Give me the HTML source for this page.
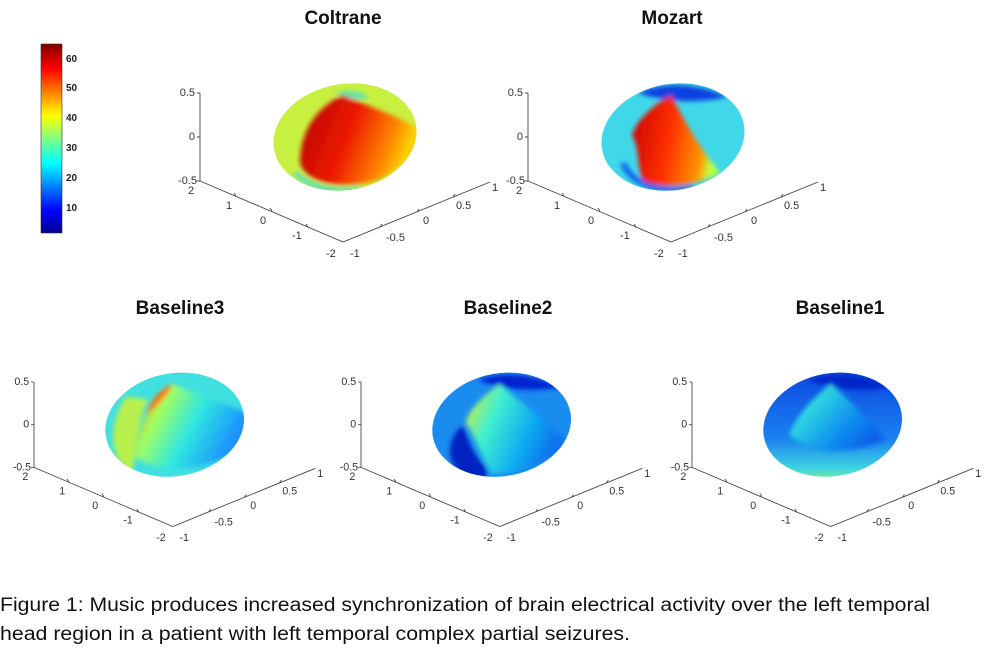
<!DOCTYPE html>
<html><head><meta charset="utf-8"><style>
html,body{margin:0;padding:0;background:#fff;}
svg{display:block;}
.t{font-family:"Liberation Sans",sans-serif;font-size:11px;fill:#333;}
.h{font-family:"Liberation Sans",sans-serif;font-size:19px;font-weight:bold;fill:#111;text-anchor:middle;}
.c{font-family:"Liberation Sans",sans-serif;font-size:19px;fill:#111;}
.cb{font-family:"Liberation Sans",sans-serif;font-size:10px;font-weight:bold;fill:#222;}
</style></head><body>
<svg width="1000" height="648" viewBox="0 0 1000 648" xmlns="http://www.w3.org/2000/svg">
<defs>
<linearGradient id="jet" x1="0" y1="1" x2="0" y2="0">
<stop offset="0" stop-color="#00008f"/><stop offset="0.12" stop-color="#0000ff"/>
<stop offset="0.37" stop-color="#00ffff"/><stop offset="0.5" stop-color="#80ff80"/>
<stop offset="0.62" stop-color="#ffff00"/><stop offset="0.87" stop-color="#ff0000"/>
<stop offset="1" stop-color="#800000"/></linearGradient>
<linearGradient id="red" x1="0" y1="0" x2="1" y2="0.3">
<stop offset="0" stop-color="#b00000"/><stop offset="0.5" stop-color="#ee1a00"/><stop offset="0.85" stop-color="#ff8a00"/><stop offset="1" stop-color="#ffd000"/></linearGradient>
<linearGradient id="red2" x1="0" y1="0" x2="1" y2="0.2">
<stop offset="0" stop-color="#c80000"/><stop offset="0.5" stop-color="#ff3000"/><stop offset="0.9" stop-color="#ff9a00"/><stop offset="1" stop-color="#c0ff40"/></linearGradient>
<linearGradient id="b3" x1="0" y1="0" x2="1" y2="0.4">
<stop offset="0" stop-color="#ff9000"/><stop offset="0.3" stop-color="#a0ff60"/><stop offset="0.6" stop-color="#30e8e0"/><stop offset="1" stop-color="#1a90ff"/></linearGradient>
<linearGradient id="b2" x1="0" y1="0" x2="1" y2="0.4">
<stop offset="0" stop-color="#f0f020"/><stop offset="0.35" stop-color="#40f0d0"/><stop offset="0.7" stop-color="#10b0f0"/><stop offset="1" stop-color="#0a70f0"/></linearGradient>
<linearGradient id="b1" x1="0" y1="0" x2="1" y2="0.6">
<stop offset="0" stop-color="#e8e030"/><stop offset="0.3" stop-color="#30d8e0"/><stop offset="0.7" stop-color="#1090f0"/><stop offset="1" stop-color="#0a60e8"/></linearGradient>
<linearGradient id="b1base" x1="0" y1="0" x2="0" y2="1">
<stop offset="0" stop-color="#0a40e0"/><stop offset="0.6" stop-color="#1a80f0"/><stop offset="0.85" stop-color="#40d8e0"/><stop offset="1" stop-color="#d0f040"/></linearGradient>
<filter id="bl" x="-20%" y="-20%" width="140%" height="140%"><feGaussianBlur stdDeviation="2.5"/></filter>
<clipPath id="ell"><ellipse cx="145" cy="44" rx="72" ry="53" transform="rotate(-10 145 44)"/></clipPath>
</defs>

<rect x="41" y="44" width="21" height="189" fill="url(#jet)" stroke="#333" stroke-width="0.6"/>
<g class="cb"><text x="66" y="62">60</text><text x="66" y="91">50</text><text x="66" y="121">40</text><text x="66" y="151">30</text><text x="66" y="181">20</text><text x="66" y="211">10</text></g>

<text class="h" x="343" y="24">Coltrane</text>
<text class="h" x="672" y="24">Mozart</text>
<text class="h" x="180" y="314">Baseline3</text>
<text class="h" x="508" y="314">Baseline2</text>
<text class="h" x="840" y="314">Baseline1</text>

<g id="ax1" transform="translate(200,93)">
<g fill="none" stroke="#444" stroke-width="0.9">
<path d="M0,0V88L143,149L290,89"/>
<path d="M0,0h-3M0,44h-3M0,88h-3M36,103l-2,-3M72,118l-2,-3M108,134l-2,-3M180,134l2,-3M217,119l2,-3M253,104l2,-3"/>
</g>
<g class="t" text-anchor="end"><text x="-5" y="3">0.5</text><text x="-5" y="47">0</text><text x="-3" y="91">-0.5</text></g>
<g class="t"><text x="-12" y="101">2</text><text x="26" y="116">1</text><text x="60" y="131">0</text><text x="92" y="146">-1</text><text x="126" y="164">-2</text>
<text x="150" y="164">-1</text><text x="186" y="148">-0.5</text><text x="223" y="131">0</text><text x="256" y="116">0.5</text><text x="292" y="98">1</text></g>
</g>

<!-- Coltrane -->
<g transform="translate(200,93)"><g clip-path="url(#ell)">
<rect x="60" y="-20" width="180" height="130" fill="#c8f040"/>
<g filter="url(#bl)">
<path d="M95,80 C110,96 140,100 160,96" stroke="#50e0c0" stroke-width="5" fill="none"/>
<path d="M135,0 C150,-4 160,-2 170,4 C160,8 145,6 135,0Z" fill="#60e0b0"/>
<path d="M143,2 C115,15 100,40 100,70 C105,90 140,97 175,88 C205,75 222,55 218,35 C195,22 165,12 143,2Z" fill="url(#red)"/>
</g></g></g>

<!-- Mozart -->
<use href="#ax1" transform="translate(328,0)"/>
<g transform="translate(528,93)"><g clip-path="url(#ell)">
<rect x="60" y="-20" width="180" height="130" fill="#40d8e8"/>
<g filter="url(#bl)">
<path d="M110,0 C135,-12 170,-10 200,4 C170,10 140,10 110,0Z" fill="#0a40e0"/>
<path d="M95,70 C105,95 140,100 165,95" stroke="#1060f0" stroke-width="6" fill="none"/>
<path d="M143,2 C120,15 108,30 104,42 C112,55 108,70 115,88 C140,97 170,92 192,80 C172,55 157,30 143,2Z" fill="url(#red2)"/>
</g></g></g>

<!-- Baseline3 -->
<g transform="translate(-166,289) translate(200,93) scale(0.97) translate(-200,-93)"><use href="#ax1"/></g>
<g transform="translate(34,382) scale(0.97)"><g clip-path="url(#ell)">
<rect x="60" y="-20" width="180" height="130" fill="#40e0e0"/>
<g filter="url(#bl)">
<path d="M95,15 C75,45 78,80 100,95 C108,70 106,40 118,18Z" fill="#b8f050"/>
<path d="M143,2 C120,15 110,40 105,78 C130,95 175,92 208,72 C222,55 222,40 216,30 C190,20 165,12 143,2Z" fill="url(#b3)"/>
<path d="M143,2 C125,10 118,25 116,35 C128,22 140,12 143,2Z" fill="#ff7000"/>
</g></g></g>

<!-- Baseline2 -->
<g transform="translate(161,289) translate(200,93) scale(0.97) translate(-200,-93)"><use href="#ax1"/></g>
<g transform="translate(361,382) scale(0.97)"><g clip-path="url(#ell)">
<rect x="60" y="-20" width="180" height="130" fill="#1a8cf0"/>
<g filter="url(#bl)">
<path d="M120,-2 C145,-12 180,-8 205,6 C170,10 145,8 120,-2Z" fill="#0520d0"/>
<path d="M105,45 C85,60 88,90 112,100 C132,102 132,96 127,86 C112,70 110,55 105,45Z" fill="#0520c0"/>
<path d="M143,2 C125,15 110,30 108,42 C120,60 125,80 135,95 C170,95 200,80 212,62 C185,35 160,18 143,2Z" fill="url(#b2)"/>
</g></g></g>

<!-- Baseline1 -->
<g transform="translate(492,289) translate(200,93) scale(0.97) translate(-200,-93)"><use href="#ax1"/></g>
<g transform="translate(692,382) scale(0.97)"><g clip-path="url(#ell)">
<rect x="60" y="-20" width="180" height="130" fill="url(#b1base)"/>
<g filter="url(#bl)">
<path d="M120,-2 C145,-12 180,-8 205,6 C170,10 145,8 120,-2Z" fill="#0528c8"/>
<path d="M143,2 C120,20 105,40 100,55 C125,75 160,75 200,60 C180,35 158,15 143,2Z" fill="url(#b1)"/>
</g></g></g>

<text class="c" x="0" y="611" textLength="930" lengthAdjust="spacingAndGlyphs">Figure 1: Music produces increased synchronization of brain electrical activity over the left temporal</text>
<text class="c" x="0" y="640" textLength="630" lengthAdjust="spacingAndGlyphs">head region in a patient with left temporal complex partial seizures.</text>
</svg>
</body></html>
